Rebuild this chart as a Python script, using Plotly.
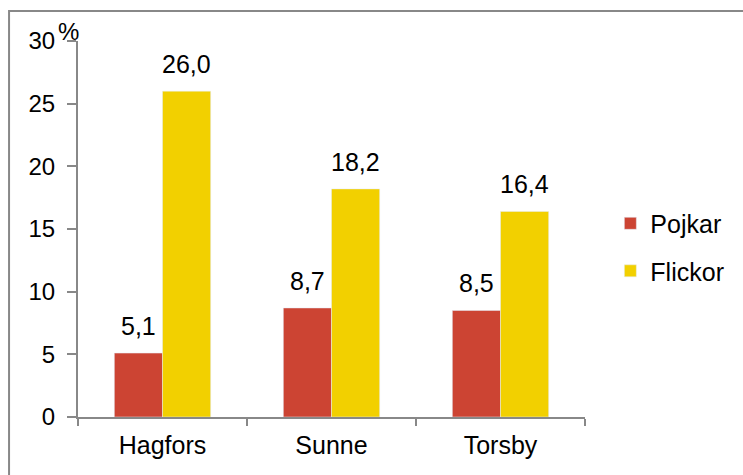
import plotly.graph_objects as go

categories = ["Hagfors", "Sunne", "Torsby"]
pojkar = [5.1, 8.7, 8.5]
flickor = [26.0, 18.2, 16.4]
y_ticks = [0, 5, 10, 15, 20, 25, 30]

RED = "#CC4433"
YELLOW = "#F2D000"
FONT = "Liberation Sans, Arial, sans-serif"

def fmt(v):
    return f"{v:.1f}".replace(".", ",")

fig = go.Figure()
fig.add_trace(go.Bar(x=categories, y=pojkar, name="Pojkar", marker_color=RED,
                     legendgroup="a"))
fig.add_trace(go.Bar(x=categories, y=flickor, name="Flickor", marker_color=YELLOW,
                     legendgroup="b"))

for c, v in zip(categories, pojkar):
    fig.add_annotation(x=c, y=v, text=fmt(v), xshift=-24, yshift=11, yanchor="bottom",
                       showarrow=False, font=dict(size=25, color="black", family=FONT))
for c, v in zip(categories, flickor):
    fig.add_annotation(x=c, y=v, text=fmt(v), xshift=24, yshift=11, yanchor="bottom",
                       showarrow=False, font=dict(size=25, color="black", family=FONT))

fig.add_annotation(xref="paper", yref="paper", x=-0.018, y=1.0, text="%", showarrow=False,
                   xanchor="center", yanchor="bottom", yshift=-6,
                   font=dict(size=24, color="black", family=FONT))

fig.add_shape(type="rect", xref="paper", yref="paper", x0=-0.136, y0=-0.5, x1=1.5, y1=1.0798,
              line=dict(color="#888888", width=2), fillcolor="rgba(0,0,0,0)", layer="below")

fig.update_layout(
    width=743, height=475,
    margin=dict(l=78, r=158, t=41, b=58, autoexpand=False),
    paper_bgcolor="white", plot_bgcolor="white",
    font=dict(family=FONT, size=25, color="black"),
    barmode="group", bargap=0.43, bargroupgap=0,
    showlegend=True,
    legend=dict(x=1.05, y=0.452, xanchor="left", yanchor="middle",
                font=dict(size=25, family=FONT), tracegroupgap=12,
                bgcolor="rgba(0,0,0,0)"),
    xaxis=dict(showline=True, linecolor="#888888", linewidth=2, ticks="outside",
               tickson="boundaries", ticklen=7, tickcolor="#888888", tickwidth=2,
               showgrid=False, range=[-0.5, 2.5], tickfont=dict(size=25),
               ticklabelstandoff=5),
    yaxis=dict(range=[0, 30], tickvals=y_ticks, showline=True, linecolor="#888888",
               linewidth=2, ticks="outside", ticklen=9, tickcolor="#888888", tickwidth=2,
               showgrid=False, zeroline=False, ticklabelstandoff=7,
               tickfont=dict(size=24)),
)

fig.write_html("out.html")
